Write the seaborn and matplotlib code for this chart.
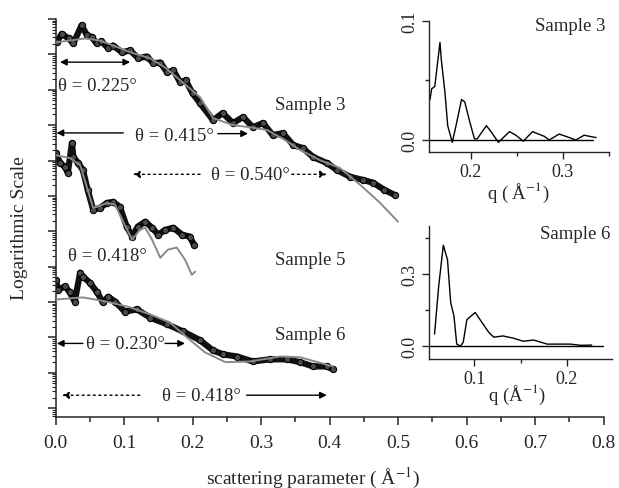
import numpy as np
import pandas as pd
import matplotlib
matplotlib.use("Agg")
import matplotlib.pyplot as plt
import seaborn as sns
from matplotlib.ticker import LogLocator, NullFormatter, MultipleLocator, FormatStrFormatter

# ---------------- data (log10 intensity, arbitrary offsets) ----------------
s3_q = [0.002, 0.009, 0.019, 0.026, 0.038, 0.046, 0.053, 0.060, 0.067, 0.077,
        0.084, 0.097, 0.109, 0.121, 0.133, 0.143, 0.153, 0.163, 0.172, 0.182,
        0.190, 0.200, 0.211, 0.230, 0.244, 0.259, 0.274, 0.288, 0.303, 0.317,
        0.332, 0.347, 0.361, 0.376, 0.396, 0.411, 0.430, 0.449, 0.464, 0.480, 0.495]
s3_log = [10.35, 10.58, 10.45, 10.31, 10.82, 10.54, 10.49, 10.31, 10.37, 10.17,
          10.25, 10.06, 10.11, 9.89, 9.94, 9.75, 9.77, 9.49, 9.55, 9.21,
          9.27, 8.90, 8.62, 8.14, 8.34, 8.06, 8.23, 7.94, 8.06, 7.72,
          7.77, 7.44, 7.35, 7.10, 6.93, 6.73, 6.54, 6.45, 6.37, 6.17, 6.03]
s3_fit_q = [0.0, 0.021, 0.043, 0.065, 0.087, 0.109, 0.138, 0.160, 0.182, 0.211,
            0.230, 0.259, 0.284, 0.309, 0.335, 0.357, 0.386, 0.415, 0.445, 0.474, 0.500]
s3_fit_log = [10.34, 10.39, 10.45, 10.39, 10.23, 10.06, 9.89, 9.63, 9.27, 8.79,
              8.20, 8.00, 7.94, 7.86, 7.58, 7.30, 7.01, 6.79, 6.31, 5.80, 5.27]

s5_q = [0.0, 0.007, 0.014, 0.018, 0.024, 0.026, 0.033, 0.040, 0.047, 0.055,
        0.065, 0.075, 0.084, 0.094, 0.104, 0.112, 0.120, 0.131, 0.141, 0.150,
        0.160, 0.172, 0.185, 0.196, 0.202]
s5_log = [7.21, 6.93, 6.82, 6.65, 7.49, 7.10, 6.93, 6.73, 6.17, 5.61,
          5.66, 5.80, 5.83, 5.69, 5.13, 4.85, 5.13, 5.27, 5.10, 4.90,
          5.04, 5.10, 4.90, 4.85, 4.62]
s5_fit_q = [0.0, 0.021, 0.036, 0.047, 0.055, 0.065, 0.075, 0.087, 0.101, 0.112,
            0.123, 0.131, 0.141, 0.153, 0.164, 0.177, 0.189, 0.199, 0.204]
s5_fit_log = [7.15, 7.07, 6.87, 6.17, 5.66, 5.72, 5.80, 5.75, 5.18, 4.76,
              5.04, 5.10, 4.76, 4.25, 4.48, 4.54, 4.20, 3.77, 3.86]

s6_q = [0.0, 0.004, 0.014, 0.021, 0.028, 0.036, 0.040, 0.050, 0.061, 0.069,
        0.077, 0.087, 0.101, 0.119, 0.138, 0.163, 0.186, 0.211, 0.230, 0.245,
        0.265, 0.288, 0.313, 0.338, 0.357, 0.376, 0.396, 0.405]
s6_log = [3.63, 3.35, 3.44, 3.27, 3.01, 3.83, 3.72, 3.55, 3.27, 2.99,
          3.15, 3.01, 2.73, 2.79, 2.56, 2.37, 2.17, 1.92, 1.63, 1.52,
          1.46, 1.32, 1.38, 1.38, 1.30, 1.18, 1.18, 1.10]
s6_fit_q = [0.0, 0.04, 0.075, 0.109, 0.138, 0.167, 0.192, 0.218, 0.248, 0.284,
            0.328, 0.357, 0.379, 0.405]
s6_fit_log = [3.07, 3.13, 3.01, 2.85, 2.65, 2.42, 2.00, 1.58, 1.30, 1.32,
              1.46, 1.44, 1.32, 1.18]

# insets
in3_q = [0.1558, 0.1576, 0.161, 0.1666, 0.168, 0.172, 0.175, 0.18, 0.184, 0.19,
         0.1935, 0.199, 0.204, 0.207, 0.217, 0.222, 0.23, 0.242, 0.249, 0.257,
         0.267, 0.28, 0.285, 0.296, 0.307, 0.314, 0.323, 0.336]
in3_v = [0.034, 0.043, 0.045, 0.082, 0.068, 0.040, 0.012, -0.002, 0.012, 0.034,
         0.032, 0.015, 0.001, 0.001, 0.012, 0.007, -0.002, 0.007, 0.004, -0.001,
         0.007, 0.003, 0.0, 0.005, 0.002, 0.0, 0.004, 0.002]
in6_q = [0.057, 0.0615, 0.0665, 0.071, 0.0745, 0.078, 0.081, 0.085, 0.088, 0.092,
         0.101, 0.108, 0.1155, 0.121, 0.131, 0.142, 0.153, 0.164, 0.179, 0.193,
         0.204, 0.215, 0.227]
in6_v = [0.05, 0.25, 0.42, 0.36, 0.18, 0.125, 0.008, 0.0, 0.015, 0.11,
         0.14, 0.10, 0.058, 0.037, 0.042, 0.033, 0.02, 0.025, 0.008, 0.008,
         0.008, 0.003, 0.004]

x_ticks = [0.0, 0.1, 0.2, 0.3, 0.4, 0.5, 0.6, 0.7, 0.8]

# ---------------- style ----------------
sns.set_style("ticks")
plt.rcParams['font.family'] = ['Liberation Serif', 'DejaVu Serif']
plt.rcParams['mathtext.fontset'] = 'stix'
plt.rcParams['axes.linewidth'] = 1.1
plt.rcParams['xtick.direction'] = 'out'
plt.rcParams['ytick.direction'] = 'out'

W, H = 619, 489
fig = plt.figure(figsize=(W / 100, H / 100), dpi=100)
ax = fig.add_axes([55.5 / W, 1 - 418 / H, 548 / W, 398 / H])

GRAY = '#8a8a8a'


def draw_data(q, lg, fq, flg):
    d = pd.DataFrame({'q': q, 'I': np.power(10.0, lg)})
    f = pd.DataFrame({'q': fq, 'I': np.power(10.0, flg)})
    sns.lineplot(data=d, x='q', y='I', ax=ax, color='#111111', lw=4.5, sort=False,
                 estimator=None, marker='o', markersize=4.5,
                 markerfacecolor='#4a4a4a', markeredgecolor='black', mew=0.8)
    sns.lineplot(data=f, x='q', y='I', ax=ax, color=GRAY, lw=1.4, sort=False,
                 estimator=None, zorder=5)


draw_data(s3_q, s3_log, s3_fit_q, s3_fit_log)
draw_data(s5_q, s5_log, s5_fit_q, s5_fit_log)
draw_data(s6_q, s6_log, s6_fit_q, s6_fit_log)

ax.set_yscale('log')
ax.set_xlim(0, 0.8)
ax.set_ylim(10 ** -0.25, 10 ** 11.0)
ax.yaxis.set_major_locator(LogLocator(base=10, numticks=30))
ax.yaxis.set_minor_locator(LogLocator(base=10, subs=np.arange(2, 10), numticks=300))
ax.yaxis.set_major_formatter(NullFormatter())
ax.yaxis.set_minor_formatter(NullFormatter())
ax.set_xticks(x_ticks)
ax.xaxis.set_minor_locator(MultipleLocator(0.05))
ax.xaxis.set_major_formatter(FormatStrFormatter('%.1f'))
ax.tick_params(axis='x', which='major', length=6, width=1.1, labelsize=14, pad=6)
ax.tick_params(axis='x', which='minor', length=3.5, width=1.1)
ax.tick_params(axis='y', which='major', length=6, width=1.1)
ax.tick_params(axis='y', which='minor', length=3, width=0.8)
ax.set_xlabel('')
ax.set_ylabel('')
for s in ['top', 'right']:
    ax.spines[s].set_visible(False)

fig.text(313 / W, 1 - 484 / H, 'scattering parameter ( Å$^{-1}$)', ha='center',
         va='baseline', fontsize=14)
fig.text(20 / W, 1 - 228 / H, 'Logarithmic Scale', rotation=90, ha='center',
         va='center', fontsize=14)

TFS = 13.5


def L(v):
    return 10 ** v


def arrow(x0, x1, y, dotted=False, style='-|>'):
    props = dict(arrowstyle=style, color='black', lw=1.0, mutation_scale=10,
                 shrinkA=0, shrinkB=0)
    if dotted:
        props['linestyle'] = (0, (1.5, 2.5))
    ax.annotate('', xy=(x1, L(y)), xytext=(x0, L(y)), arrowprops=props)


# Sample 3 annotations
arrow(0.0066, 0.109, 9.78, style='<|-|>')
ax.text(0.004, L(9.13), 'θ = 0.225°', ha='left', va='center', fontsize=TFS)
arrow(0.099, 0.0015, 7.78)
ax.text(0.173, L(7.72), 'θ = 0.415°', ha='center', va='center', fontsize=TFS)
arrow(0.237, 0.281, 7.76)
arrow(0.211, 0.113, 6.61, dotted=True)
ax.text(0.284, L(6.61), 'θ = 0.540°', ha='center', va='center', fontsize=TFS)
arrow(0.345, 0.396, 6.61, dotted=True)
ax.text(0.372, L(8.59), 'Sample 3', ha='center', va='center', fontsize=TFS)

# Sample 5
ax.text(0.076, L(4.31), 'θ = 0.418°', ha='center', va='center', fontsize=TFS)
ax.text(0.372, L(4.20), 'Sample 5', ha='center', va='center', fontsize=TFS)

# Sample 6
arrow(0.040, 0.002, 1.83)
ax.text(0.102, L(1.83), 'θ = 0.230°', ha='center', va='center', fontsize=TFS)
arrow(0.160, 0.189, 1.83)
ax.text(0.372, L(2.08), 'Sample 6', ha='center', va='center', fontsize=TFS)
arrow(0.123, 0.0095, 0.366, dotted=True)
ax.text(0.2125, L(0.366), 'θ = 0.418°', ha='center', va='center', fontsize=TFS)
arrow(0.279, 0.396, 0.366)

# ---------------- insets ----------------
ax1 = fig.add_axes([429 / W, 1 - 153 / H, 180 / W, 131 / H])
sns.lineplot(x=in3_q, y=in3_v, ax=ax1, color='black', lw=1.0, sort=False, estimator=None)
ax1.axhline(0, xmin=0, xmax=0.91, color='black', lw=1.0)
ax1.set_xlim(0.1547, 0.35)
ax1.set_ylim(-0.0101, 0.1)
ax1.set_xticks([0.2, 0.3])
ax1.xaxis.set_minor_locator(MultipleLocator(0.05))
ax1.set_yticks([0.0, 0.1])
ax1.yaxis.set_minor_locator(MultipleLocator(0.05))
ax1.xaxis.set_major_formatter(FormatStrFormatter('%.1f'))
ax1.yaxis.set_major_formatter(FormatStrFormatter('%.1f'))
ax1.text(0.978, 0.962, 'Sample 3', transform=ax1.transAxes, ha='right',
         va='center', fontsize=TFS)
fig.text(518 / W, 1 - 193 / H, 'q ( Å$^{-1}$)', ha='center', va='center', fontsize=13.5)

ax2 = fig.add_axes([429 / W, 1 - 360 / H, 183 / W, 133 / H])
sns.lineplot(x=in6_q, y=in6_v, ax=ax2, color='black', lw=1.0, sort=False, estimator=None)
ax2.axhline(0, xmin=0, xmax=0.95, color='black', lw=1.0)
ax2.set_xlim(0.051, 0.249)
ax2.set_ylim(-0.054, 0.5)
ax2.set_xticks([0.1, 0.2])
ax2.xaxis.set_minor_locator(MultipleLocator(0.05))
ax2.set_yticks([0.0, 0.3])
ax2.yaxis.set_minor_locator(MultipleLocator(0.15))
ax2.xaxis.set_major_formatter(FormatStrFormatter('%.1f'))
ax2.yaxis.set_major_formatter(FormatStrFormatter('%.1f'))
ax2.text(0.989, 0.94, 'Sample 6', transform=ax2.transAxes, ha='right',
         va='center', fontsize=TFS)
fig.text(517 / W, 1 - 395 / H, 'q (Å$^{-1}$)', ha='center', va='center', fontsize=13.5)

for a in (ax1, ax2):
    for s in ['top', 'right']:
        a.spines[s].set_visible(False)
    a.spines['left'].set_linewidth(1.0)
    a.spines['bottom'].set_linewidth(1.0)
    a.set_xlabel('')
    a.set_ylabel('')
    a.patch.set_alpha(0)
    a.tick_params(axis='both', which='major', length=5, width=1.0, labelsize=13, pad=3)
    a.tick_params(axis='both', which='minor', length=3, width=1.0)
    for t in a.get_yticklabels():
        t.set_rotation(90)
        t.set_va('center')

fig.savefig('out.png', dpi=100)
